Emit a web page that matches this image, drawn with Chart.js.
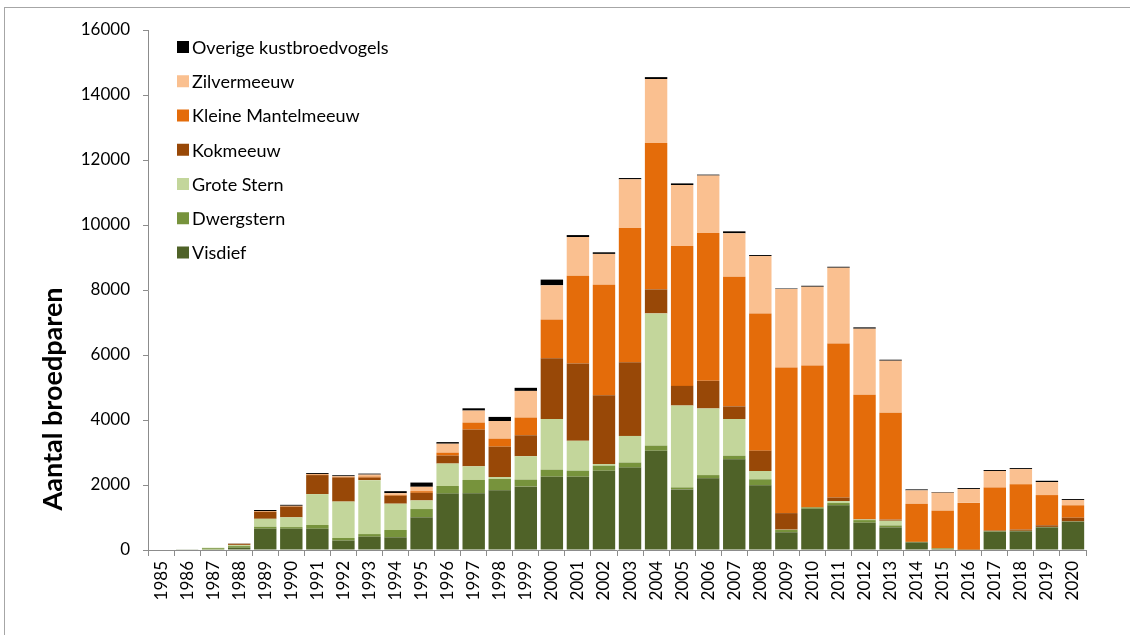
<!DOCTYPE html>
<html>
<head>
<meta charset="utf-8">
<script src="https://cdn.jsdelivr.net/npm/chart.js@4.4.1/dist/chart.umd.min.js"></script>
<style>
  html, body { margin: 0; padding: 0; background: #ffffff; }
  canvas { display: block; }
</style>
</head>
<body>
<canvas id="chart" width="1130" height="635"></canvas>
<script>
// Broedparen van kustbroedvogels per jaar (gestapeld per soort)
const years = ['1985','1986','1987','1988','1989','1990','1991','1992','1993','1994',
  '1995','1996','1997','1998','1999','2000','2001','2002','2003','2004',
  '2005','2006','2007','2008','2009','2010','2011','2012','2013','2014',
  '2015','2016','2017','2018','2019','2020'];

const visdief = [0,10,15,70,655,655,655,290,410,390,
  1005,1735,1745,1835,1950,2255,2255,2440,2535,3055,
  1865,2205,2790,1990,545,1270,1375,840,695,235,
  30,10,565,575,695,870];

const dwergstern = [0,0,40,50,60,50,115,80,80,225,
  255,235,410,350,215,215,185,155,155,155,
  60,100,110,185,70,40,70,80,60,15,
  20,0,15,15,15,10];

const groteStern = [0,0,15,30,245,300,950,1120,1660,810,
  265,690,420,60,720,1560,920,50,820,4070,
  2520,2050,1130,255,10,0,60,20,145,0,
  0,0,0,0,0,0];

const kokmeeuw = [0,0,0,30,215,330,585,740,80,245,
  235,245,1130,935,645,1870,2380,2115,2265,740,
  605,850,390,625,510,0,110,15,35,0,
  0,0,20,40,50,115];

const kleineMantelmeeuw = [0,0,0,0,10,10,15,20,30,20,
  50,90,215,245,545,1190,2700,3400,4130,4500,
  4305,4550,3990,4225,4480,4370,4740,3825,3290,1170,
  1160,1440,1320,1390,930,380];

const zilvermeeuw = [0,0,0,15,15,15,20,20,60,60,
  135,275,370,545,820,1055,1190,950,1500,1970,
  1875,1765,1335,1765,2415,2420,2330,2030,1600,415,
  555,425,510,470,400,165];

const overige = [0,0,0,10,30,30,30,30,30,60,
  130,50,70,125,95,175,60,50,40,60,
  50,30,60,30,15,30,30,40,30,30,
  20,30,30,30,40,30];

const yTicks = [0,2000,4000,6000,8000,10000,12000,14000,16000];
const yTitle = 'Aantal broedparen';

const FONT = 'Lato, "Open Sans", sans-serif';
const AXIS_GREY = '#8c8c8c';

// Legend drawn inside the plot, top-left, topmost series first
const insideLegend = {
  id: 'insideLegend',
  afterDraw(chart) {
    const ctx = chart.ctx;
    const ds = chart.data.datasets;
    ctx.save();
    ctx.font = '18px ' + FONT;
    ctx.textBaseline = 'middle';
    ctx.textAlign = 'left';
    let row = 0;
    for (let i = ds.length - 1; i >= 0; i--) {
      const cy = 47 + row * 34.25;
      ctx.fillStyle = ds[i].backgroundColor;
      ctx.fillRect(177, cy - 6, 12, 12);
      ctx.fillStyle = '#000000';
      ctx.fillText(ds[i].label, 192, cy + 1);
      row++;
    }
    ctx.restore();
  }
};

// Outer frame and the rotated axis title
const frameAndTitle = {
  id: 'frameAndTitle',
  beforeDraw(chart) {
    const ctx = chart.ctx;
    ctx.save();
    ctx.fillStyle = '#ffffff';
    ctx.fillRect(0, 0, chart.width, chart.height);
    ctx.strokeStyle = '#a6a6a6';
    ctx.lineWidth = 1;
    ctx.strokeRect(4.5, 7.5, 1200, 700);
    ctx.restore();
  },
  afterDraw(chart) {
    const ctx = chart.ctx;
    ctx.save();
    ctx.translate(53, 399);
    ctx.rotate(-Math.PI / 2);
    ctx.font = 'bold 27px ' + FONT;
    ctx.fillStyle = '#000000';
    ctx.textAlign = 'center';
    ctx.textBaseline = 'middle';
    ctx.fillText(yTitle, 0, 0);
    ctx.restore();
  }
};

function build() {
  new Chart(document.getElementById('chart'), {
    type: 'bar',
    data: {
      labels: years,
      datasets: [
        { label: 'Visdief', data: visdief, backgroundColor: '#4F6228' },
        { label: 'Dwergstern', data: dwergstern, backgroundColor: '#77933C' },
        { label: 'Grote Stern', data: groteStern, backgroundColor: '#C3D69B' },
        { label: 'Kokmeeuw', data: kokmeeuw, backgroundColor: '#984807' },
        { label: 'Kleine Mantelmeeuw', data: kleineMantelmeeuw, backgroundColor: '#E46C0A' },
        { label: 'Zilvermeeuw', data: zilvermeeuw, backgroundColor: '#FAC090' },
        { label: 'Overige kustbroedvogels', data: overige, backgroundColor: '#000000' }
      ]
    },
    options: {
      responsive: false,
      animation: false,
      devicePixelRatio: 1,
      categoryPercentage: 1.0,
      barPercentage: 0.86,
      layout: { padding: { top: 30, right: 44, left: 0, bottom: 0 } },
      plugins: {
        legend: { display: false },
        tooltip: { enabled: false },
        title: { display: false }
      },
      scales: {
        x: {
          stacked: true,
          grid: {
            display: true, drawOnChartArea: false, drawTicks: true,
            tickLength: 6, color: AXIS_GREY, offset: true
          },
          border: { display: true, color: AXIS_GREY, width: 1 },
          ticks: {
            autoSkip: false, minRotation: 90, maxRotation: 90,
            color: '#000000', padding: 5,
            font: { family: FONT, size: 17 }
          },
          afterFit(scale) { scale.height = 85; }
        },
        y: {
          stacked: true,
          min: yTicks[0],
          max: yTicks[yTicks.length - 1],
          afterBuildTicks(scale) { scale.ticks = yTicks.map(v => ({ value: v })); },
          grid: {
            display: true, drawOnChartArea: false, drawTicks: true,
            tickLength: 5, color: AXIS_GREY
          },
          border: { display: true, color: AXIS_GREY, width: 1 },
          ticks: {
            color: '#000000', padding: 13,
            font: { family: FONT, size: 17 },
            callback: v => String(v)
          },
          afterFit(scale) { scale.width = 148; }
        }
      }
    },
    plugins: [frameAndTitle, insideLegend]
  });
}

Promise.all([
  document.fonts.load('17px Lato'),
  document.fonts.load('18px Lato'),
  document.fonts.load('bold 27px Lato')
]).then(build, build);
</script>
</body>
</html>
